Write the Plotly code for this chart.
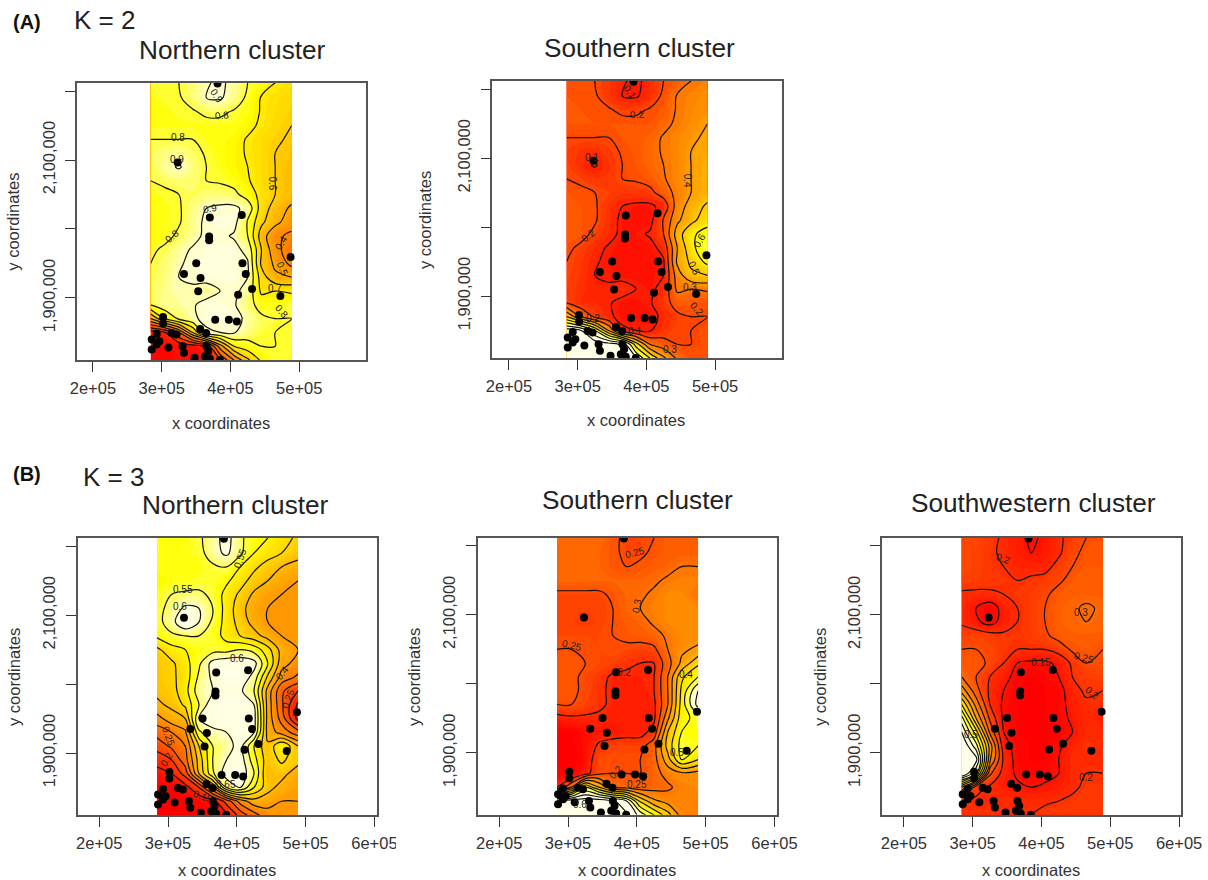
import plotly.graph_objects as go

# grid coordinates shared by all panels
grid_x = [284000, 305000, 325000, 345000, 365000, 385000, 405000, 425000, 445000, 465000, 489000]
grid_y = [2212000, 2190000, 2170000, 2150000, 2130000, 2110000, 2090000, 2070000, 2050000, 2030000,
          2010000, 1990000, 1970000, 1950000, 1930000, 1910000, 1890000, 1870000, 1850000, 1830000, 1810000]

z_a_north = [
 [.78,.78,.80,.84,.89,.92,.87,.80,.76,.70,.66],
 [.77,.78,.79,.84,.90,.91,.86,.78,.69,.66,.63],
 [.76,.77,.78,.79,.82,.82,.79,.76,.69,.65,.62],
 [.77,.77,.77,.77,.77,.77,.77,.73,.68,.64,.60],
 [.80,.80,.80,.80,.77,.76,.74,.69,.65,.62,.58],
 [.82,.85,.86,.83,.79,.76,.73,.69,.65,.60,.57],
 [.81,.87,.91,.85,.80,.77,.73,.70,.65,.60,.56],
 [.80,.82,.84,.84,.80,.79,.76,.71,.65,.60,.55],
 [.77,.78,.80,.82,.84,.84,.83,.75,.67,.60,.55],
 [.76,.77,.79,.85,.90,.92,.92,.87,.65,.56,.48],
 [.76,.77,.79,.86,.92,.93,.93,.79,.62,.53,.44],
 [.75,.77,.82,.87,.92,.92,.89,.80,.55,.42,.38],
 [.78,.82,.87,.91,.93,.93,.93,.87,.60,.43,.35],
 [.80,.84,.89,.92,.93,.93,.93,.91,.58,.48,.37],
 [.81,.85,.90,.91,.93,.93,.93,.90,.65,.52,.50],
 [.82,.86,.89,.89,.86,.90,.92,.87,.68,.70,.68],
 [.80,.87,.87,.89,.93,.93,.91,.84,.76,.76,.79],
 [.50,.70,.82,.88,.93,.93,.93,.88,.82,.80,.80],
 [.05,.10,.30,.60,.88,.90,.91,.85,.80,.80,.79],
 [.02,.02,.03,.05,.12,.45,.70,.76,.80,.80,.79],
 [.02,.02,.03,.03,.05,.20,.40,.58,.72,.78,.77],
]
z_a_south = [
 [.22,.22,.20,.16,.11,.08,.13,.20,.24,.30,.34],
 [.23,.22,.21,.16,.10,.09,.14,.22,.31,.34,.37],
 [.24,.23,.22,.21,.18,.18,.21,.24,.31,.35,.38],
 [.23,.23,.23,.23,.23,.23,.23,.27,.32,.36,.40],
 [.20,.20,.20,.20,.23,.24,.26,.31,.35,.38,.42],
 [.18,.15,.14,.17,.21,.24,.27,.31,.35,.40,.43],
 [.19,.13,.09,.15,.20,.23,.27,.30,.35,.40,.44],
 [.20,.18,.16,.16,.20,.21,.24,.29,.35,.40,.45],
 [.23,.22,.20,.18,.16,.16,.17,.25,.33,.40,.45],
 [.24,.23,.21,.15,.10,.08,.08,.13,.35,.44,.52],
 [.24,.23,.21,.14,.08,.07,.07,.21,.38,.47,.56],
 [.25,.23,.18,.13,.08,.08,.11,.20,.45,.58,.64],
 [.22,.18,.13,.09,.07,.07,.07,.13,.40,.57,.68],
 [.20,.16,.11,.08,.07,.07,.07,.09,.42,.52,.63],
 [.19,.15,.10,.09,.07,.07,.07,.10,.35,.48,.50],
 [.18,.14,.11,.11,.14,.10,.08,.13,.32,.30,.32],
 [.20,.13,.13,.11,.07,.07,.09,.16,.24,.24,.21],
 [.50,.30,.18,.12,.07,.07,.07,.12,.18,.20,.20],
 [.95,.90,.70,.40,.12,.10,.09,.15,.20,.20,.21],
 [.98,.98,.97,.95,.88,.55,.30,.24,.20,.20,.21],
 [.98,.98,.97,.97,.95,.80,.60,.42,.28,.22,.23],
]
z_b_north = [
 [.52,.52,.52,.54,.58,.62,.56,.52,.50,.47,.44],
 [.52,.52,.52,.53,.58,.61,.56,.50,.47,.45,.42],
 [.52,.52,.52,.52,.54,.55,.50,.46,.43,.40,.38],
 [.50,.52,.52,.53,.53,.51,.47,.43,.40,.37,.35],
 [.52,.55,.56,.56,.54,.48,.44,.39,.36,.35,.35],
 [.53,.57,.61,.60,.55,.48,.42,.37,.35,.35,.35],
 [.53,.58,.65,.60,.54,.48,.43,.38,.35,.35,.35],
 [.51,.54,.55,.55,.53,.48,.45,.42,.38,.35,.34],
 [.44,.48,.50,.52,.53,.53,.55,.53,.47,.38,.35],
 [.42,.44,.48,.54,.62,.64,.64,.62,.50,.37,.33],
 [.42,.44,.47,.56,.61,.64,.64,.58,.44,.33,.29],
 [.41,.43,.48,.58,.60,.63,.61,.55,.38,.26,.20],
 [.39,.41,.46,.55,.64,.64,.64,.60,.38,.26,.14],
 [.33,.38,.40,.60,.62,.64,.63,.62,.38,.28,.13],
 [.27,.30,.34,.54,.59,.60,.64,.60,.38,.33,.27],
 [.22,.26,.30,.45,.55,.58,.62,.50,.41,.50,.40],
 [.17,.20,.28,.42,.55,.60,.63,.52,.42,.46,.42],
 [.13,.15,.22,.40,.54,.63,.64,.55,.40,.42,.37],
 [.10,.10,.13,.20,.35,.55,.60,.50,.42,.38,.36],
 [.10,.10,.10,.11,.13,.22,.32,.38,.37,.35,.35],
 [.10,.10,.10,.10,.11,.14,.22,.28,.33,.35,.35],
]
z_b_south = [
 [.29,.29,.29,.29,.26,.24,.24,.25,.27,.27,.27],
 [.29,.29,.29,.28,.26,.24,.24,.26,.27,.27,.27],
 [.29,.29,.29,.28,.26,.25,.26,.27,.28,.30,.30],
 [.28,.28,.28,.28,.28,.28,.28,.29,.31,.32,.32],
 [.24,.24,.24,.24,.26,.28,.29,.31,.33,.33,.30],
 [.23,.23,.23,.23,.25,.28,.30,.32,.33,.33,.33],
 [.23,.23,.22,.23,.25,.27,.28,.31,.33,.33,.33],
 [.24,.24,.24,.24,.25,.26,.27,.28,.31,.33,.33],
 [.25,.25,.25,.24,.25,.24,.23,.24,.30,.34,.36],
 [.26,.26,.25,.24,.23,.21,.20,.20,.28,.36,.44],
 [.26,.26,.24,.22,.19,.19,.19,.20,.30,.44,.50],
 [.26,.26,.24,.21,.19,.18,.18,.20,.30,.46,.60],
 [.25,.25,.23,.21,.19,.19,.19,.19,.30,.47,.62],
 [.18,.19,.19,.19,.18,.18,.18,.19,.34,.48,.52],
 [.14,.14,.16,.17,.17,.18,.18,.22,.40,.50,.50],
 [.13,.13,.16,.21,.23,.23,.23,.28,.42,.52,.50],
 [.13,.13,.16,.24,.25,.25,.25,.28,.38,.50,.45],
 [.13,.14,.18,.24,.25,.25,.25,.28,.32,.34,.33],
 [.20,.30,.50,.40,.30,.28,.27,.28,.29,.32,.33],
 [.68,.68,.68,.68,.66,.60,.44,.36,.33,.32,.32],
 [.68,.68,.68,.68,.68,.66,.58,.50,.42,.33,.32],
]
z_b_southwest = [
 [.24,.24,.22,.19,.17,.14,.16,.19,.22,.25,.26],
 [.24,.23,.21,.19,.17,.15,.16,.19,.24,.26,.26],
 [.24,.23,.21,.20,.18,.18,.18,.22,.25,.27,.27],
 [.23,.22,.22,.21,.20,.21,.22,.24,.27,.28,.28],
 [.19,.19,.19,.20,.21,.22,.24,.27,.28,.28,.28],
 [.19,.15,.12,.17,.20,.22,.25,.28,.29,.31,.29],
 [.19,.16,.13,.17,.20,.22,.25,.28,.29,.30,.29],
 [.23,.23,.22,.21,.21,.22,.24,.27,.28,.28,.28],
 [.25,.25,.24,.21,.20,.20,.20,.22,.26,.27,.25],
 [.27,.27,.24,.20,.15,.14,.14,.16,.21,.25,.25],
 [.30,.25,.20,.17,.13,.12,.13,.15,.20,.22,.23],
 [.38,.27,.19,.15,.12,.12,.12,.13,.18,.21,.20],
 [.50,.33,.20,.14,.12,.12,.12,.13,.17,.19,.20],
 [.62,.40,.24,.14,.12,.12,.12,.13,.16,.19,.17],
 [.70,.52,.29,.15,.12,.12,.12,.12,.15,.19,.19],
 [.76,.62,.38,.17,.13,.12,.12,.14,.18,.20,.19],
 [.78,.72,.36,.19,.13,.12,.12,.15,.19,.19,.19],
 [.78,.60,.26,.18,.14,.13,.13,.15,.19,.20,.20],
 [.40,.22,.19,.17,.16,.15,.16,.17,.19,.21,.21],
 [.20,.19,.19,.19,.19,.19,.19,.20,.21,.21,.21],
 [.20,.20,.20,.20,.20,.20,.22,.22,.22,.22,.22],
]

# sampling sites
site_x = [381200,323200,370000,416400,369000,369000,350200,417400,332400,422200,356500,431400,353100,411100,
          472500,487400,377800,397600,409200,302000,302000,356000,364700,292800,285500,296600,292800,285500,
          314500,321700,309700,330400,332400,347800,365200,367600,362800,370000,384500]
site_y = [2211000,2096300,2016700,2020100,1989200,1983500,1950200,1950200,1934700,1934700,1928900,1913000,1909600,1904800,
          1902900,1959300,1868200,1868200,1865800,1872500,1862900,1855100,1849300,1847900,1839700,1837300,1832500,1825200,
          1849300,1846900,1828100,1830000,1820400,1813200,1830000,1822800,1815600,1811700,1810000]

# contour labels (text, x, y, angle)
labels_a_north = [("0.9",379700,2194000,55),("0.8",387000,2164000,-5),("0.8",324000,2133000,0),("0.9",321700,2101000,0),
                  ("0.9",370000,2029000,-10),("0.8",314500,1989000,-40),("0.6",460400,2066000,90),("0.4",474000,1980000,-60),
                  ("0.5",475000,1942000,65),("0.7",464000,1913000,0),("0.8",475000,1881000,50)]
labels_a_south = [("0.1",376800,2196000,55),("0.2",386500,2164000,-5),("0.1",321000,2101000,0),("0.2",315500,1988000,-40),
                  ("0.4",460000,2068000,90),("0.6",477000,1981000,-60),("0.5",470000,1940000,65),("0.3",463000,1913000,0),
                  ("0.2",473000,1882000,50),("0.2",322700,1868000,0),("0.1",383000,1848000,0),("0.3",434800,1823000,0)]
labels_b_north = [("0.55",321300,2136600,0),("0.6",317400,2113000,0),("0.55",404500,2182500,-70),("0.6",399700,2037000,0),
                  ("0.4",465000,2015600,-50),("0.25",300500,1923700,70),("0.2",298000,1890000,-60),("0.15",351000,1836600,20),
                  ("0.65",384000,1853600,0),("0.25",474600,1979000,-70)]
labels_b_south = [("0.25",397700,2190000,-15),("0.3",400600,2113000,-80),("0.25",306300,2056000,15),("0.2",381000,2016000,0),
                  ("0.4",471000,2013700,0),("0.5",457700,1901000,0),("0.2",369000,1871000,-50),("0.25",399700,1854000,0),
                  ("0.6",317800,1825000,0)]
labels_b_southwest = [("0.2",344000,2181600,20),("0.3",457700,2104000,0),("0.15",399700,2030600,0),("0.25",461600,2038000,15),
                      ("0.2",473000,1987000,40),("0.2",465000,1863700,0),("0.5",298000,1926600,0)]

x_ticks_a = [200000,300000,400000,500000]
x_text_a = ["2e+05","3e+05","4e+05","5e+05"]
x_ticks_b = [200000,300000,400000,500000,600000]
x_text_b = ["2e+05","3e+05","4e+05","5e+05","6e+05"]
y_ticks = [2200000,2100000,2000000,1900000]
y_text = ["","2,100,000","","1,900,000"]

heat = [[0,"#FF0000"],[0.75,"#FFFF00"],[0.92,"#FFFFD8"],[1,"#FFFFE8"]]
W, H = 1208, 880
panels = [
 dict(z=z_a_north, title="Northern cluster", box=(77,366,83,360), xr=(176900,597000), yr=(1810000,2211700), lim=(0,1), band=.025, step=.1, lo=.1, hi=.9,
      xt=x_ticks_a, xl=x_text_a, labels=labels_a_north, tc=(232,50), xc=(220.5,422.7), yc=(12.7,222)),
 dict(z=z_a_south, title="Southern cluster", box=(492.3,781.7,80.7,358), xr=(175700,597000), yr=(1810000,2212500), lim=(0.03,0.85), band=.025, step=.1, lo=.1, hi=.9,
      xt=x_ticks_a, xl=x_text_a, labels=labels_a_south, tc=(639,48), xc=(636,420), yc=(425,220)),
 dict(z=z_b_north, title="Northern cluster", box=(77.7,377.3,538,815.3), xr=(168700,604200), yr=(1809600,2212000), lim=(0.1,0.65), band=.0125, step=.05, lo=.15, hi=.65,
      xt=x_ticks_b, xl=x_text_b, labels=labels_b_north, tc=(235,505), xc=(227,870), yc=(14,677)),
 dict(z=z_b_south, title="Southern cluster", box=(477.7,777.3,537.7,815), xr=(168700,604200), yr=(1809600,2212000), lim=(0.14,0.62), band=.0125, step=.05, lo=.2, hi=.65,
      xt=x_ticks_b, xl=x_text_b, labels=labels_b_south, tc=(637,500), xc=(627,870), yc=(414,677)),
 dict(z=z_b_southwest, title="Southwestern cluster", box=(882,1181.3,537.7,815), xr=(168200,603200), yr=(1809600,2212000), lim=(0.12,0.70), band=.0125, step=.05, lo=.15, hi=.7,
      xt=x_ticks_b, xl=x_text_b, labels=labels_b_southwest, tc=(1033,503), xc=(1031,870), yc=(820,677)),
]

fig = go.Figure()
annots = []
font = "Liberation Sans, Arial, sans-serif"

def note(text, px, py, size, color="#222", angle=0, anchor="center", bold=False):
    annots.append(dict(text=f"<b>{text}</b>" if bold else text, x=px/W, y=1-py/H, xref="paper", yref="paper",
                       xanchor=anchor, yanchor="middle", showarrow=False, textangle=angle,
                       font=dict(family=font, size=size, color=color)))

layout = {}
for i, p in enumerate(panels, 1):
    xa, ya = f"x{i}", f"y{i}"
    fig.add_trace(go.Contour(x=grid_x, y=grid_y, z=p["z"], xaxis=xa, yaxis=ya, showscale=False, colorscale=heat,
                             zmin=p["lim"][0], zmax=p["lim"][1], hoverinfo="skip",
                             contours=dict(coloring="fill", start=p["lim"][0], end=p["lim"][1], size=p["band"]),
                             line=dict(width=0, smoothing=1)))
    fig.add_trace(go.Contour(x=grid_x, y=grid_y, z=p["z"], xaxis=xa, yaxis=ya, showscale=False, hoverinfo="skip",
                             contours=dict(coloring="none", start=p["lo"], end=p["hi"], size=p["step"]),
                             line=dict(width=1.2, color="#111111", smoothing=1)))
    fig.add_trace(go.Scatter(x=site_x, y=site_y, xaxis=xa, yaxis=ya, mode="markers", hoverinfo="skip",
                             marker=dict(color="#000000", size=8, line=dict(width=0))))
    x0, x1, y0, y1 = p["box"]
    common = dict(showgrid=False, zeroline=False, showline=True, mirror=True, linecolor="#555555", linewidth=1.5,
                  ticks="outside", ticklen=10, tickcolor="#333333", tickwidth=1,
                  tickfont=dict(family=font, size=16.5, color="#333333"), tickmode="array")
    layout[f"xaxis{i}"] = dict(domain=[x0/W, x1/W], range=list(p["xr"]), anchor=ya, tickvals=p["xt"], ticktext=p["xl"],
                               ticklabelstandoff=2, **common)
    layout[f"yaxis{i}"] = dict(domain=[1-y1/H, 1-y0/H], range=list(p["yr"]), anchor=xa, tickvals=y_ticks, ticktext=y_text,
                               tickangle=-90, ticklabelstandoff=4, **common)
    note(p["title"], p["tc"][0], p["tc"][1], 26.2)
    note("x coordinates", p["xc"][0], p["xc"][1], 16.5, "#333333")
    note("y coordinates", p["yc"][0], p["yc"][1], 16.5, "#333333", angle=-90)
    for text, lx, ly, ang in p["labels"]:
        annots.append(dict(text=text, x=lx, y=ly, xref=xa, yref=ya, showarrow=False, textangle=ang,
                           font=dict(family=font, size=10, color="#222222")))

note("(A)", 11, 22, 20, "#111", anchor="left", bold=True)
note("K = 2", 72, 20, 26, "#222", anchor="left")
note("(B)", 11, 474, 20, "#111", anchor="left", bold=True)
note("K = 3", 81, 477, 26, "#222", anchor="left")

fig.update_layout(width=W, height=H, autosize=False, margin=dict(l=0, r=0, t=0, b=0, autoexpand=False), showlegend=False,
                  paper_bgcolor="white", plot_bgcolor="white", annotations=annots,
                  shapes=[dict(type="rect", xref="paper", yref="paper", x0=396/W, x1=410/W, y0=1-855/H, y1=1-825/H,
                               fillcolor="white", line=dict(width=0), layer="above")],
                  **layout)
fig.write_html("out.html", config=dict(displayModeBar=False),
               post_script="document.body.style.margin='0';document.body.style.overflow='hidden';")
